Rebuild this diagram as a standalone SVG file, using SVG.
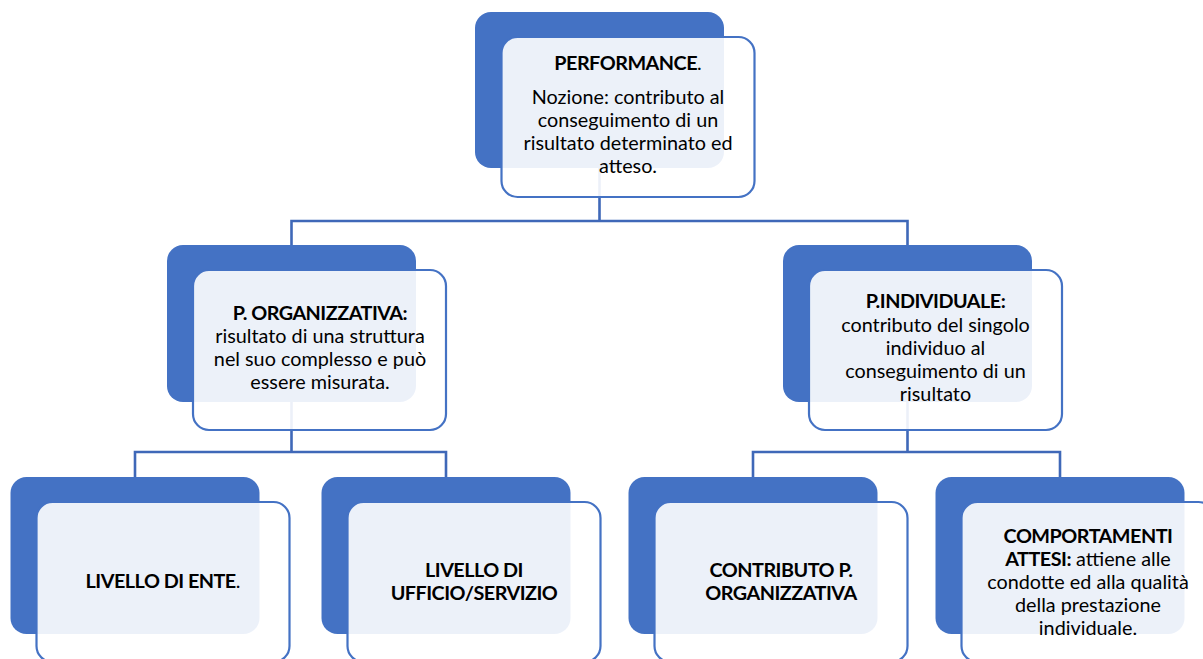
<svg xmlns="http://www.w3.org/2000/svg" width="1203" height="659" viewBox="0 0 1203 659">
  <style>
    .back { fill: #4472C4; }
    .front { fill: #FFFFFF; fill-opacity: 0.9; stroke: #4472C4; stroke-width: 2.2; }
    .link { fill: none; stroke: #3F68B8; stroke-width: 2.6; }
    .lbl { font-family: Lato, "Liberation Sans", sans-serif; font-size: 19.8px; fill: #000; text-anchor: middle; }
    .b { font-weight: bold; letter-spacing: -0.5px; }
  </style>
  <rect width="1203" height="659" fill="#FFFFFF"/>

  <g id="connectors">
    <path class="link" d="M599.5,168 V221 M291.5,245 V221 H907.5 V245"/>
    <path class="link" d="M291.5,402 V452 M135,477 V452 H446 V477"/>
    <path class="link" d="M907.5,402 V452 M753,477 V452 H1060 V477"/>
  </g>

  <g id="performance">
    <rect class="back" x="475" y="12" width="249" height="156" rx="16"/>
    <rect class="front" x="501.5" y="37" width="253" height="160" rx="16"/>
    <text class="lbl" x="628" y="70"><tspan class="b">PERFORMANCE</tspan>.</text>
    <text class="lbl" x="628" y="104">Nozione: contributo al</text>
    <text class="lbl" x="628" y="127">conseguimento di un</text>
    <text class="lbl" x="628" y="150">risultato determinato ed</text>
    <text class="lbl" x="628" y="173">atteso.</text>
  </g>

  <g id="p-organizzativa">
    <rect class="back" x="167" y="245" width="249" height="157" rx="16"/>
    <rect class="front" x="193" y="270" width="253" height="160" rx="16"/>
    <text class="lbl" x="320" y="320"><tspan class="b">P. ORGANIZZATIVA:</tspan></text>
    <text class="lbl" x="320" y="343">risultato di una struttura</text>
    <text class="lbl" x="320" y="366">nel suo complesso e può</text>
    <text class="lbl" x="320" y="389">essere misurata.</text>
  </g>

  <g id="p-individuale">
    <rect class="back" x="783" y="245" width="249" height="157" rx="16"/>
    <rect class="front" x="809" y="270" width="253" height="160" rx="16"/>
    <text class="lbl" x="935.5" y="308"><tspan class="b">P.INDIVIDUALE:</tspan></text>
    <text class="lbl" x="935.5" y="331.5">contributo del singolo</text>
    <text class="lbl" x="935.5" y="355">individuo al</text>
    <text class="lbl" x="935.5" y="378">conseguimento di un</text>
    <text class="lbl" x="935.5" y="401">risultato</text>
  </g>

  <g id="livello-ente">
    <rect class="back" x="10.5" y="477" width="249" height="157" rx="16"/>
    <rect class="front" x="36.5" y="502" width="253" height="160" rx="16"/>
    <text class="lbl" x="163" y="588"><tspan class="b">LIVELLO DI ENTE</tspan>.</text>
  </g>

  <g id="livello-ufficio">
    <rect class="back" x="321.5" y="477" width="249" height="157" rx="16"/>
    <rect class="front" x="347.5" y="502" width="253" height="160" rx="16"/>
    <text class="lbl b" x="474" y="577">LIVELLO DI</text>
    <text class="lbl b" x="474" y="600">UFFICIO/SERVIZIO</text>
  </g>

  <g id="contributo">
    <rect class="back" x="628.5" y="477" width="249" height="157" rx="16"/>
    <rect class="front" x="654.5" y="502" width="253" height="160" rx="16"/>
    <text class="lbl b" x="781" y="577">CONTRIBUTO P.</text>
    <text class="lbl b" x="781" y="600">ORGANIZZATIVA</text>
  </g>

  <g id="comportamenti">
    <rect class="back" x="935.5" y="477" width="249" height="157" rx="16"/>
    <rect class="front" x="961.5" y="502" width="253" height="160" rx="16"/>
    <text class="lbl" x="1088" y="543"><tspan class="b">COMPORTAMENTI</tspan></text>
    <text class="lbl" x="1088" y="566"><tspan class="b">ATTESI:</tspan> attiene alle</text>
    <text class="lbl" x="1088" y="589">condotte ed alla qualità</text>
    <text class="lbl" x="1088" y="612">della prestazione</text>
    <text class="lbl" x="1088" y="635">individuale.</text>
  </g>
</svg>
